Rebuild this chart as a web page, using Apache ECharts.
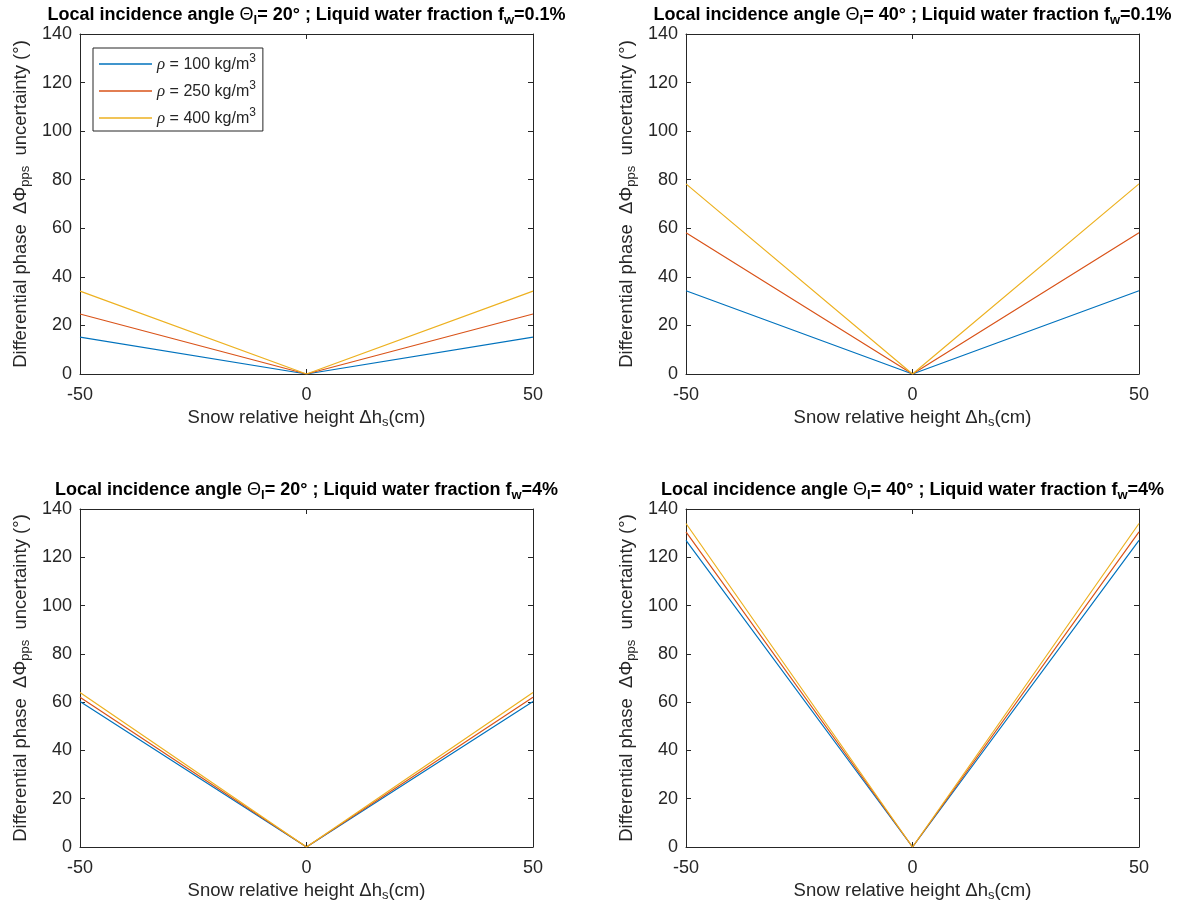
<!DOCTYPE html>
<html><head><meta charset="utf-8">
<script src="https://cdn.jsdelivr.net/npm/echarts@6/dist/echarts.min.js"></script>
<style>html,body{margin:0;padding:0;background:#fff}#c{width:1183px;height:908px}</style>
</head><body><div id="c"></div>
<script>
// ---- data ----
const xValues = [-50, 0, 50];
const xTickValues = [-50, 0, 50];
const yTickValues = [0, 20, 40, 60, 80, 100, 120, 140];
const densities = [100, 250, 400];
const seriesNames = ['ρ = 100 kg/m³', 'ρ = 250 kg/m³', 'ρ = 400 kg/m³'];
const lineColors = ['#0072BD', '#D95319', '#EDB120'];
// panel 1: Θl = 20°, fw = 0.1%
const p1_rho100 = [15.2, 0, 15.2];
const p1_rho250 = [24.7, 0, 24.7];
const p1_rho400 = [34.1, 0, 34.1];
// panel 2: Θl = 40°, fw = 0.1%
const p2_rho100 = [34.3, 0, 34.3];
const p2_rho250 = [58.2, 0, 58.2];
const p2_rho400 = [78.3, 0, 78.3];
// panel 3: Θl = 20°, fw = 4%
const p3_rho100 = [60.3, 0, 60.3];
const p3_rho250 = [62.0, 0, 62.0];
const p3_rho400 = [64.0, 0, 64.0];
// panel 4: Θl = 40°, fw = 4%
const p4_rho100 = [127.0, 0, 127.0];
const p4_rho250 = [130.5, 0, 130.5];
const p4_rho400 = [134.0, 0, 134.0];
const panelAngles = ['20°', '40°', '20°', '40°'];
const panelWater = ['0.1%', '0.1%', '4%', '4%'];

const panels = [
  [p1_rho100, p1_rho250, p1_rho400],
  [p2_rho100, p2_rho250, p2_rho400],
  [p3_rho100, p3_rho250, p3_rho400],
  [p4_rho100, p4_rho250, p4_rho400]
];

// ---- layout ----
const FONT = "'Liberation Sans', Arial, Helvetica, sans-serif";
const AX = '#262626';
const grids = [
  {left: 80, top: 34, width: 453, height: 340},
  {left: 686, top: 34, width: 453, height: 340},
  {left: 80, top: 509, width: 453, height: 338},
  {left: 686, top: 509, width: 453, height: 338}
];

const titleRich = {
  t: {fontFamily: FONT, fontWeight: 'bold', fontSize: 18, color: '#000', lineHeight: 21, verticalAlign: 'top'},
  g: {fontFamily: FONT, fontWeight: 'normal', fontSize: 18, color: '#000', lineHeight: 21, verticalAlign: 'top'},
  s: {fontFamily: FONT, fontWeight: 'bold', fontSize: 13, color: '#000', lineHeight: 21, verticalAlign: 'top', padding: [8, 0, 0, 0]}
};
const nameRich = {
  t: {fontFamily: FONT, fontSize: 18.5, color: AX, lineHeight: 20, verticalAlign: 'top'},
  s: {fontFamily: FONT, fontSize: 13, color: AX, lineHeight: 20, verticalAlign: 'top', padding: [8, 0, 0, 0]}
};

const titles = [], xAxes = [], yAxes = [], series = [];
grids.forEach((g, i) => {
  titles.push({
    text: '{t|Local incidence angle }{g|Θ}{s|l}{t|= ' + panelAngles[i] + ' ; Liquid water fraction f}{s|w}{t|=' + panelWater[i] + '}',
    left: g.left + g.width / 2,
    top: g.top - 28,
    textAlign: 'center',
    padding: 0,
    textStyle: {rich: titleRich}
  });
  const common = {
    type: 'value', gridIndex: i, min: -50, max: 50, interval: 50,
    axisLine: {show: true, onZero: false, lineStyle: {color: AX, width: 1}},
    axisTick: {show: true, inside: true, length: 5, lineStyle: {color: AX}},
    splitLine: {show: false}
  };
  xAxes.push(Object.assign({}, common, {
    position: 'bottom',
    axisLabel: {show: true, color: AX, fontFamily: FONT, fontSize: 18, margin: 12,
      formatter: v => xTickValues.includes(v) ? String(v) : ''},
    name: '{t|Snow relative height Δh}{s|s}{t|(cm)}',
    nameLocation: 'middle', nameGap: 34,
    nameTextStyle: {rich: nameRich}
  }));
  xAxes.push(Object.assign({}, common, {position: 'top', axisLabel: {show: false}}));
  const ycommon = {
    type: 'value', gridIndex: i, min: 0, max: 140, interval: 20,
    axisLine: {show: true, onZero: false, lineStyle: {color: AX, width: 1}},
    axisTick: {show: true, inside: true, length: 5, lineStyle: {color: AX}},
    splitLine: {show: false}
  };
  yAxes.push(Object.assign({}, ycommon, {
    position: 'left',
    axisLabel: {show: true, color: AX, fontFamily: FONT, fontSize: 18, margin: 8,
      formatter: v => yTickValues.includes(v) ? String(v) : ''},
    name: '{t|Differential phase  ΔΦ}{s|pps}{t|  uncertainty (°)}',
    nameLocation: 'middle', nameGap: 49, nameRotate: 90,
    nameTextStyle: {rich: nameRich}
  }));
  yAxes.push(Object.assign({}, ycommon, {position: 'right', axisLabel: {show: false}}));
  panels[i].forEach((vals, k) => {
    series.push({
      type: 'line', name: seriesNames[k],
      xAxisIndex: 2 * i, yAxisIndex: 2 * i,
      data: xValues.map((x, j) => [x, vals[j]]),
      symbol: 'none', showSymbol: false, silent: true, animation: false,
      lineStyle: {color: lineColors[k], width: 1.2},
      itemStyle: {color: lineColors[k]}
    });
  });
});

const chart = echarts.init(document.getElementById('c'), null, {renderer: 'canvas'});
chart.setOption({
  backgroundColor: '#fff',
  animation: false,
  title: titles,
  grid: grids,
  xAxis: xAxes,
  yAxis: yAxes,
  legend: {
    data: seriesNames.map((n, k) => ({name: n, icon: 'rect', itemStyle: {color: lineColors[k]}})),
    orient: 'vertical',
    left: 93, top: 48,
    padding: [5, 7, 4, 6],
    itemWidth: 53, itemHeight: 1.3, itemGap: 7,
    borderColor: AX, borderWidth: 1,
    backgroundColor: '#fff',
    selectedMode: false,
    formatter: name => {
      const d = densities[seriesNames.indexOf(name)];
      return '{r|ρ}{t| = ' + d + ' kg/m}{p|3}';
    },
    textStyle: {
      rich: {
        r: {fontFamily: "'Liberation Serif', serif", fontStyle: 'italic', fontSize: 17, color: AX, lineHeight: 18, verticalAlign: 'bottom'},
        t: {fontFamily: FONT, fontSize: 16, color: AX, lineHeight: 18, verticalAlign: 'bottom'},
        p: {fontFamily: FONT, fontSize: 12, color: AX, lineHeight: 13, verticalAlign: 'bottom', padding: [0, 0, 8, 0]}
      }
    }
  },
  series: series
});
</script></body></html>
